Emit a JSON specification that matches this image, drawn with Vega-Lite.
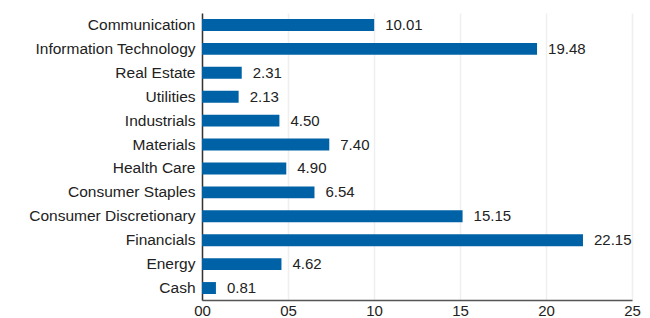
{
  "$schema": "https://vega.github.io/schema/vega-lite/v6.json",
  "width": 430,
  "height": 287,
  "autosize": "none",
  "padding": {"left": 202, "top": 13, "right": 18, "bottom": 18},
  "background": "white",
  "config": {"view": {"stroke": null}, "font": "Liberation Sans"},
  "data": {"values": [
    {"sector": "Communication", "value": 10.01},
    {"sector": "Information Technology", "value": 19.48},
    {"sector": "Real Estate", "value": 2.31},
    {"sector": "Utilities", "value": 2.13},
    {"sector": "Industrials", "value": 4.50},
    {"sector": "Materials", "value": 7.40},
    {"sector": "Health Care", "value": 4.90},
    {"sector": "Consumer Staples", "value": 6.54},
    {"sector": "Consumer Discretionary", "value": 15.15},
    {"sector": "Financials", "value": 22.15},
    {"sector": "Energy", "value": 4.62},
    {"sector": "Cash", "value": 0.81}
  ]},
  "encoding": {
    "y": {"field": "sector", "type": "nominal", "sort": null,
      "scale": {"paddingInner": 0.5, "paddingOuter": 0.25},
      "axis": {"title": null, "ticks": false, "labelFontSize": 15.5, "labelColor": "#222", "labelPadding": 7, "domainColor": "#333", "domainWidth": 1.5, "labelLimit": 300}},
    "x": {"field": "value", "type": "quantitative",
      "scale": {"domain": [0, 25], "nice": false},
      "axis": {"title": null, "values": [0, 5, 10, 15, 20, 25], "format": "02d", "ticks": false, "labelFontSize": 15, "labelColor": "#222", "labelPadding": 3, "domainColor": "#555", "domainWidth": 1.5, "gridColor": "#efefef", "gridWidth": 1.5, "labelFlush": false}}
  },
  "layer": [
    {"mark": {"type": "bar", "color": "#0062a6"}},
    {"mark": {"type": "text", "align": "left", "dx": 11, "fontSize": 15, "color": "#222"},
     "encoding": {"text": {"field": "value", "type": "quantitative", "format": ".2f"}}}
  ]
}
